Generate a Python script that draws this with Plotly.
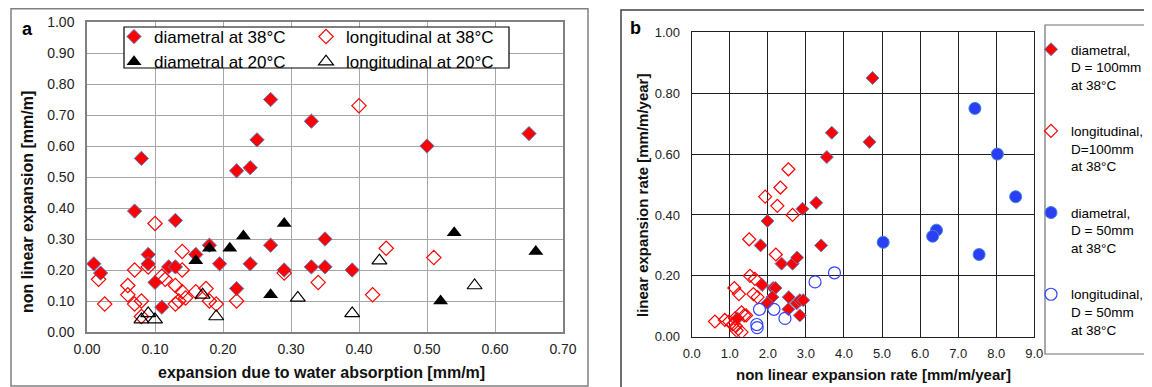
import plotly.graph_objects as go

# The page shows the figure with an 8px body margin, so the figure is sized to fit the window
OFF = 8
W, H = 1152 - OFF, 387 - OFF

# ---------------- Panel a data ----------------
a_d38_x = [0.01, 0.02, 0.07, 0.08, 0.09, 0.09, 0.10, 0.11, 0.12, 0.13, 0.13, 0.16, 0.18, 0.195, 0.22, 0.22,
           0.24, 0.24, 0.25, 0.27, 0.27, 0.29, 0.33, 0.33, 0.35, 0.35, 0.39, 0.50, 0.65]
a_d38_y = [0.22, 0.19, 0.39, 0.56, 0.25, 0.22, 0.16, 0.08, 0.21, 0.21, 0.36, 0.25, 0.28, 0.22, 0.52, 0.14,
           0.53, 0.22, 0.62, 0.75, 0.28, 0.20, 0.68, 0.21, 0.21, 0.30, 0.20, 0.60, 0.64]

a_l38_x = [0.017, 0.026, 0.06, 0.06, 0.07, 0.07, 0.08, 0.08, 0.09, 0.10, 0.11, 0.115, 0.13, 0.13, 0.135,
           0.14, 0.14, 0.14, 0.145, 0.16, 0.175, 0.18, 0.19, 0.22, 0.29, 0.34, 0.40, 0.42, 0.44, 0.51]
a_l38_y = [0.17, 0.09, 0.15, 0.12, 0.20, 0.09, 0.10, 0.05, 0.21, 0.35, 0.18, 0.17, 0.15, 0.09, 0.10,
           0.26, 0.20, 0.13, 0.11, 0.13, 0.14, 0.10, 0.09, 0.10, 0.19, 0.16, 0.73, 0.12, 0.27, 0.24]

a_d20_x = [0.16, 0.18, 0.21, 0.23, 0.27, 0.29, 0.52, 0.54, 0.66]
a_d20_y = [0.23, 0.27, 0.27, 0.31, 0.12, 0.35, 0.10, 0.32, 0.26]

a_l20_x = [0.08, 0.09, 0.10, 0.17, 0.19, 0.31, 0.39, 0.43, 0.57]
a_l20_y = [0.04, 0.06, 0.04, 0.12, 0.05, 0.11, 0.06, 0.23, 0.15]

a_xticks = [0.0, 0.1, 0.2, 0.3, 0.4, 0.5, 0.6, 0.7]
a_yticks = [0.0, 0.1, 0.2, 0.3, 0.4, 0.5, 0.6, 0.7, 0.8, 0.9, 1.0]

# ---------------- Panel b data ----------------
b_d100_x = [4.75, 3.68, 4.67, 3.55, 3.27, 2.91, 1.99, 1.81, 3.40, 2.36, 2.65, 2.77, 1.85, 2.14, 2.20,
            2.12, 1.99, 2.55, 2.54, 2.76, 2.84, 2.93, 2.84, 1.20]
b_d100_y = [0.85, 0.67, 0.64, 0.59, 0.44, 0.42, 0.38, 0.30, 0.30, 0.24, 0.24, 0.26, 0.17, 0.16, 0.16,
            0.13, 0.11, 0.13, 0.09, 0.11, 0.12, 0.12, 0.07, 0.06]

b_l100_x = [2.54, 2.33, 1.93, 2.25, 2.65, 1.51, 2.21, 1.53, 1.66, 1.12, 1.24, 1.62, 1.73, 0.61, 0.87,
            0.98, 1.08, 1.14, 1.16, 1.31, 1.38, 1.43, 1.18, 1.31]
b_l100_y = [0.55, 0.49, 0.46, 0.43, 0.40, 0.32, 0.27, 0.20, 0.19, 0.16, 0.14, 0.14, 0.13, 0.05, 0.055,
            0.05, 0.04, 0.06, 0.035, 0.08, 0.07, 0.07, 0.02, 0.015]

b_d50_x = [7.44, 8.03, 8.51, 6.43, 6.33, 7.55, 5.03]
b_d50_y = [0.75, 0.60, 0.46, 0.35, 0.33, 0.27, 0.31]

b_l50_x = [3.75, 3.24, 1.78, 2.16, 2.45, 1.71, 1.72]
b_l50_y = [0.21, 0.18, 0.09, 0.09, 0.06, 0.04, 0.03]

b_xticks = [0, 1, 2, 3, 4, 5, 6, 7, 8, 9]
b_yticks = [0.0, 0.2, 0.4, 0.6, 0.8, 1.0]

FONT = "Liberation Sans, Arial, sans-serif"


def fx(px):
    return (px - OFF) / W


def fy(py):
    return 1 - (py - OFF) / H


fig = go.Figure()

# Panel a traces
fig.add_trace(go.Scatter(x=a_d38_x, y=a_d38_y, mode="markers", name="diametral at 38°C",
                         xaxis="x", yaxis="y", legend="legend",
                         marker=dict(symbol="diamond", size=11, color="#ff0000",
                                     line=dict(color="#5b7fc0", width=1))))
fig.add_trace(go.Scatter(x=a_l38_x, y=a_l38_y, mode="markers", name="longitudinal at 38°C",
                         xaxis="x", yaxis="y", legend="legend2",
                         marker=dict(symbol="diamond-open", size=11, color="#ff0000",
                                     line=dict(color="#ff0000", width=1.2))))
fig.add_trace(go.Scatter(x=a_d20_x, y=a_d20_y, mode="markers", name="diametral at 20°C",
                         xaxis="x", yaxis="y", legend="legend",
                         marker=dict(symbol="triangle-up", size=13, color="#000000",
                                     line=dict(color="#000000", width=0))))
fig.add_trace(go.Scatter(x=a_l20_x, y=a_l20_y, mode="markers", name="longitudinal at 20°C",
                         xaxis="x", yaxis="y", legend="legend2",
                         marker=dict(symbol="triangle-up-open", size=13, color="#000000",
                                     line=dict(color="#000000", width=1.2))))

# Panel b traces
fig.add_trace(go.Scatter(x=b_d100_x, y=b_d100_y, mode="markers",
                         name="diametral,<br>D = 100mm<br>at 38°C",
                         xaxis="x2", yaxis="y2", legend="legend3", legendgroup="g1",
                         marker=dict(symbol="diamond", size=10, color="#ff0000",
                                     line=dict(color="#5b7fc0", width=1))))
fig.add_trace(go.Scatter(x=b_l100_x, y=b_l100_y, mode="markers",
                         name="longitudinal,<br>D=100mm<br>at 38°C",
                         xaxis="x2", yaxis="y2", legend="legend3", legendgroup="g2",
                         marker=dict(symbol="diamond-open", size=10, color="#ff0000",
                                     line=dict(color="#ff0000", width=1.2))))
fig.add_trace(go.Scatter(x=b_d50_x, y=b_d50_y, mode="markers",
                         name="diametral,<br>D = 50mm<br>at 38°C",
                         xaxis="x2", yaxis="y2", legend="legend3", legendgroup="g3",
                         marker=dict(symbol="circle", size=12, color="#2b3ef5",
                                     line=dict(color="#3f86d0", width=1))))
fig.add_trace(go.Scatter(x=b_l50_x, y=b_l50_y, mode="markers",
                         name="longitudinal,<br>D = 50mm<br>at 38°C",
                         xaxis="x2", yaxis="y2", legend="legend3", legendgroup="g4",
                         marker=dict(symbol="circle-open", size=12, color="#3344ff",
                                     line=dict(color="#3344ff", width=1.2))))

# plot-area pixel positions (window coordinates)
a_x0, a_x1, a_y0, a_y1 = 87, 563, 22, 332
b_x0, b_x1, b_y0, b_y1 = 691.7, 1034.3, 32.3, 336.7

axis_common = dict(showgrid=True, zeroline=False, showline=True, mirror=True, ticks="",
                   automargin=False)

fig.update_layout(
    width=W, height=H,
    margin=dict(l=0, r=0, t=0, b=0, autoexpand=False),
    paper_bgcolor="white", plot_bgcolor="white",
    font=dict(family=FONT, color="#222222"),
    xaxis=dict(domain=[fx(a_x0), fx(a_x1)], range=[0, 0.7], tickvals=a_xticks, tickformat=".2f",
               gridcolor="#a6a6a6", gridwidth=1.2, linecolor="#808080", linewidth=1.5,
               ticklabelstandoff=3,
               tickfont=dict(size=14, family=FONT, color="#222"), anchor="y", **axis_common),
    yaxis=dict(domain=[fy(a_y1), fy(a_y0)], range=[0, 1.0], tickvals=a_yticks, tickformat=".2f",
               gridcolor="#a6a6a6", gridwidth=1.2, linecolor="#808080", linewidth=1.5,
               ticklabelstandoff=8,
               tickfont=dict(size=14, family=FONT, color="#222"), anchor="x", **axis_common),
    xaxis2=dict(domain=[fx(b_x0), fx(b_x1)], range=[0, 9], tickvals=b_xticks, tickformat=".1f",
                gridcolor="#202020", gridwidth=1, linecolor="#202020", linewidth=1.2,
                ticklabelstandoff=5,
                tickfont=dict(size=13, family=FONT, color="#222"), anchor="y2", **axis_common),
    yaxis2=dict(domain=[fy(b_y1), fy(b_y0)], range=[0, 1.0], tickvals=b_yticks, tickformat=".2f",
                gridcolor="#202020", gridwidth=1, linecolor="#202020", linewidth=1.2,
                ticklabelstandoff=8,
                tickfont=dict(size=13, family=FONT, color="#222"), anchor="x2", **axis_common),
    legend=dict(x=fx(114), y=fy(19), xanchor="left", yanchor="top", bgcolor="rgba(0,0,0,0)",
                borderwidth=0, font=dict(size=17, family=FONT, color="#000"),
                tracegroupgap=0, itemwidth=30),
    legend2=dict(x=fx(306), y=fy(19), xanchor="left", yanchor="top", bgcolor="rgba(0,0,0,0)",
                 borderwidth=0, font=dict(size=17, family=FONT, color="#000"),
                 tracegroupgap=0, itemwidth=30),
    legend3=dict(x=fx(1031), y=fy(34), xanchor="left", yanchor="top", bgcolor="rgba(0,0,0,0)",
                 borderwidth=0, font=dict(size=13.5, family=FONT, color="#000"),
                 tracegroupgap=26, itemwidth=30, valign="top"),
    showlegend=True,
)

shapes = [
    # panel borders
    dict(type="rect", xref="paper", yref="paper", x0=fx(11), x1=fx(588), y0=fy(386), y1=fy(8.8),
         line=dict(color="#808080", width=1.5), fillcolor="rgba(0,0,0,0)", layer="below"),
    dict(type="rect", xref="paper", yref="paper", x0=fx(621), x1=fx(1170), y0=fy(400), y1=fy(10),
         line=dict(color="#404040", width=1.5), fillcolor="rgba(0,0,0,0)", layer="below"),
    # legend boxes
    dict(type="rect", xref="paper", yref="paper", x0=fx(124), x1=fx(509), y0=fy(68), y1=fy(27),
         line=dict(color="#000000", width=1.2), fillcolor="white", layer="above"),
    dict(type="rect", xref="paper", yref="paper", x0=fx(1045), x1=fx(1149), y0=fy(354), y1=fy(25),
         line=dict(color="#707070", width=1.2), fillcolor="white", layer="above"),
]
fig.update_layout(shapes=shapes)

ann = [
    dict(text="<b>a</b>", x=fx(27), y=fy(29), font=dict(size=18, color="#000")),
    dict(text="<b>b</b>", x=fx(635), y=fy(28), font=dict(size=18, color="#000")),
    dict(text="<b>non linear expansion [mm/m]</b>", x=fx(27), y=fy(202), textangle=-90,
         font=dict(size=16, color="#111")),
    dict(text="<b>expansion due to water absorption [mm/m]</b>", x=fx(321), y=fy(372),
         font=dict(size=16, color="#111")),
    dict(text="<b>linear expansion rate [mm/m/year]</b>", x=fx(642), y=fy(196), textangle=-90,
         font=dict(size=15, color="#111")),
    dict(text="<b>non linear expansion rate [mm/m/year]</b>", x=fx(873), y=fy(374),
         font=dict(size=15, color="#111")),
]
for a in ann:
    a.update(xref="paper", yref="paper", showarrow=False, xanchor="center", yanchor="middle")
    a["font"]["family"] = FONT
fig.update_layout(annotations=ann)

fig.write_html("out.html")
